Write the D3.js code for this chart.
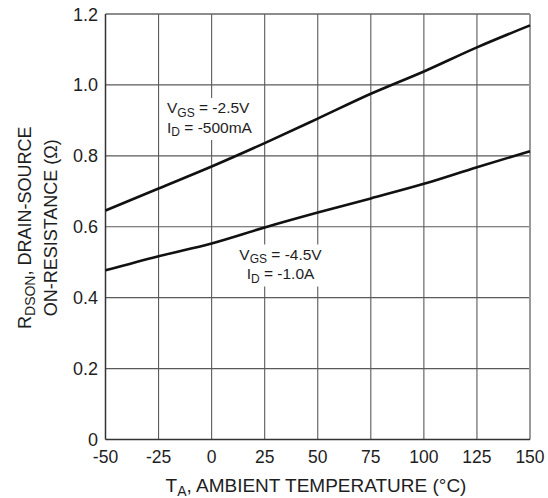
<!DOCTYPE html>
<html>
<head>
<meta charset="utf-8">
<script src="https://cdn.jsdelivr.net/npm/d3@7"></script>
<style>
  html, body { margin: 0; padding: 0; background: #fff; }
  svg { display: block; }
  text { font-family: "Liberation Sans", Arial, sans-serif; fill: #1e1e1e; }
</style>
</head>
<body>
<svg id="chart" width="548" height="498"></svg>
<script>
// Temperature points (°C)
const temps = [-50, -25, 0, 25, 50, 75, 100, 125, 150];
// On-resistance (Ω) for VGS = -2.5V, ID = -500mA
const rdsLow = [0.646, 0.708, 0.770, 0.836, 0.905, 0.975, 1.038, 1.106, 1.168];
// On-resistance (Ω) for VGS = -4.5V, ID = -1.0A
const rdsHigh = [0.477, 0.517, 0.553, 0.598, 0.640, 0.680, 0.721, 0.768, 0.813];

const xTicks = [-50, -25, 0, 25, 50, 75, 100, 125, 150];
const yTicks = [0, 0.2, 0.4, 0.6, 0.8, 1.0, 1.2];
const yTickLabels = ["0", "0.2", "0.4", "0.6", "0.8", "1.0", "1.2"];

const svg = d3.select("#chart");
const m = { left: 105.5, right: 530, top: 14, bottom: 439.5 };

const x = d3.scaleLinear().domain([-50, 150]).range([m.left, m.right]);
const y = d3.scaleLinear().domain([0, 1.2]).range([m.bottom, m.top]);

// Grid
const grid = svg.append("g");
grid.selectAll("line.v").data(xTicks.slice(1, -1)).enter().append("line")
  .attr("x1", d => x(d)).attr("x2", d => x(d))
  .attr("y1", m.top).attr("y2", m.bottom)
  .attr("stroke", "#5a5a5a").attr("stroke-width", 1.1);
grid.selectAll("line.h").data(yTicks.slice(1, -1)).enter().append("line")
  .attr("x1", m.left).attr("x2", m.right)
  .attr("y1", d => y(d)).attr("y2", d => y(d))
  .attr("stroke", "#5a5a5a").attr("stroke-width", 1.1);

// Frame
svg.append("line").attr("x1", m.left).attr("x2", m.right).attr("y1", m.top).attr("y2", m.top)
  .attr("stroke", "#666").attr("stroke-width", 1.3);
svg.append("line").attr("x1", m.right).attr("x2", m.right).attr("y1", m.top).attr("y2", m.bottom)
  .attr("stroke", "#9a9a9a").attr("stroke-width", 2);
svg.append("line").attr("x1", m.left).attr("x2", m.right).attr("y1", m.bottom).attr("y2", m.bottom)
  .attr("stroke", "#333").attr("stroke-width", 1.5);
svg.append("line").attr("x1", m.left).attr("x2", m.left).attr("y1", m.top).attr("y2", m.bottom)
  .attr("stroke", "#333").attr("stroke-width", 1.5);

// Curves
const line = d3.line().x((d, i) => x(temps[i])).y(d => y(d)).curve(d3.curveMonotoneX);
[rdsLow, rdsHigh].forEach(s => {
  svg.append("path").datum(s).attr("d", line)
    .attr("fill", "none").attr("stroke", "#111").attr("stroke-width", 2.6);
});

// Annotations with white backing
function label(cx, cyTop, anchor, sub1, val1, sub2, val2, main2) {
  const g = svg.append("g");
  const t1 = g.append("text").attr("font-size", 15.5).attr("text-anchor", anchor)
    .attr("x", cx).attr("y", cyTop);
  t1.append("tspan").text("V");
  t1.append("tspan").attr("font-size", 12).attr("dy", 3.5).text(sub1);
  t1.append("tspan").attr("dy", -3.5).text(" = " + val1);
  const t2 = g.append("text").attr("font-size", 15.5).attr("text-anchor", anchor)
    .attr("x", cx).attr("y", cyTop + 19.5);
  t2.append("tspan").text(main2);
  t2.append("tspan").attr("font-size", 12).attr("dy", 3.5).text(sub2);
  t2.append("tspan").attr("dy", -3.5).text(" = " + val2);
  const b = g.node().getBBox();
  g.insert("rect", "text").attr("x", b.x - 2).attr("y", b.y - 1)
    .attr("width", b.width + 4).attr("height", b.height + 2).attr("fill", "#fff");
}
label(167, 113, "start", "GS", "-2.5V", "D", "-500mA", "I");
label(280.5, 259.5, "middle", "GS", "-4.5V", "D", "-1.0A", "I");

// Tick labels
svg.append("g").selectAll("text").data(yTicks).enter().append("text")
  .attr("x", 98).attr("y", d => y(d) + 6.5).attr("text-anchor", "end")
  .attr("font-size", 18).text((d, i) => yTickLabels[i]);
svg.append("g").selectAll("text").data(xTicks).enter().append("text")
  .attr("x", d => x(d)).attr("y", 463).attr("text-anchor", "middle")
  .attr("font-size", 17.5).text(d => d);

// X title
const xt = svg.append("text").attr("x", 316).attr("y", 492).attr("text-anchor", "middle").attr("font-size", 19);
xt.append("tspan").text("T");
xt.append("tspan").attr("font-size", 14).attr("dy", 4).text("A");
xt.append("tspan").attr("dy", -4).text(", AMBIENT TEMPERATURE (°C)");

// Y title
const yt = svg.append("g").attr("transform", `translate(0, ${(m.top + m.bottom) / 2 + 1}) rotate(-90)`);
const y1 = yt.append("text").attr("x", 0).attr("y", 31).attr("text-anchor", "middle").attr("font-size", 18);
y1.append("tspan").text("R");
y1.append("tspan").attr("font-size", 14).attr("dy", 4).text("DSON");
y1.append("tspan").attr("dy", -4).text(", DRAIN-SOURCE");
yt.append("text").attr("x", 0).attr("y", 57).attr("text-anchor", "middle").attr("font-size", 18)
  .text("ON-RESISTANCE (Ω)");
</script>
</body>
</html>
